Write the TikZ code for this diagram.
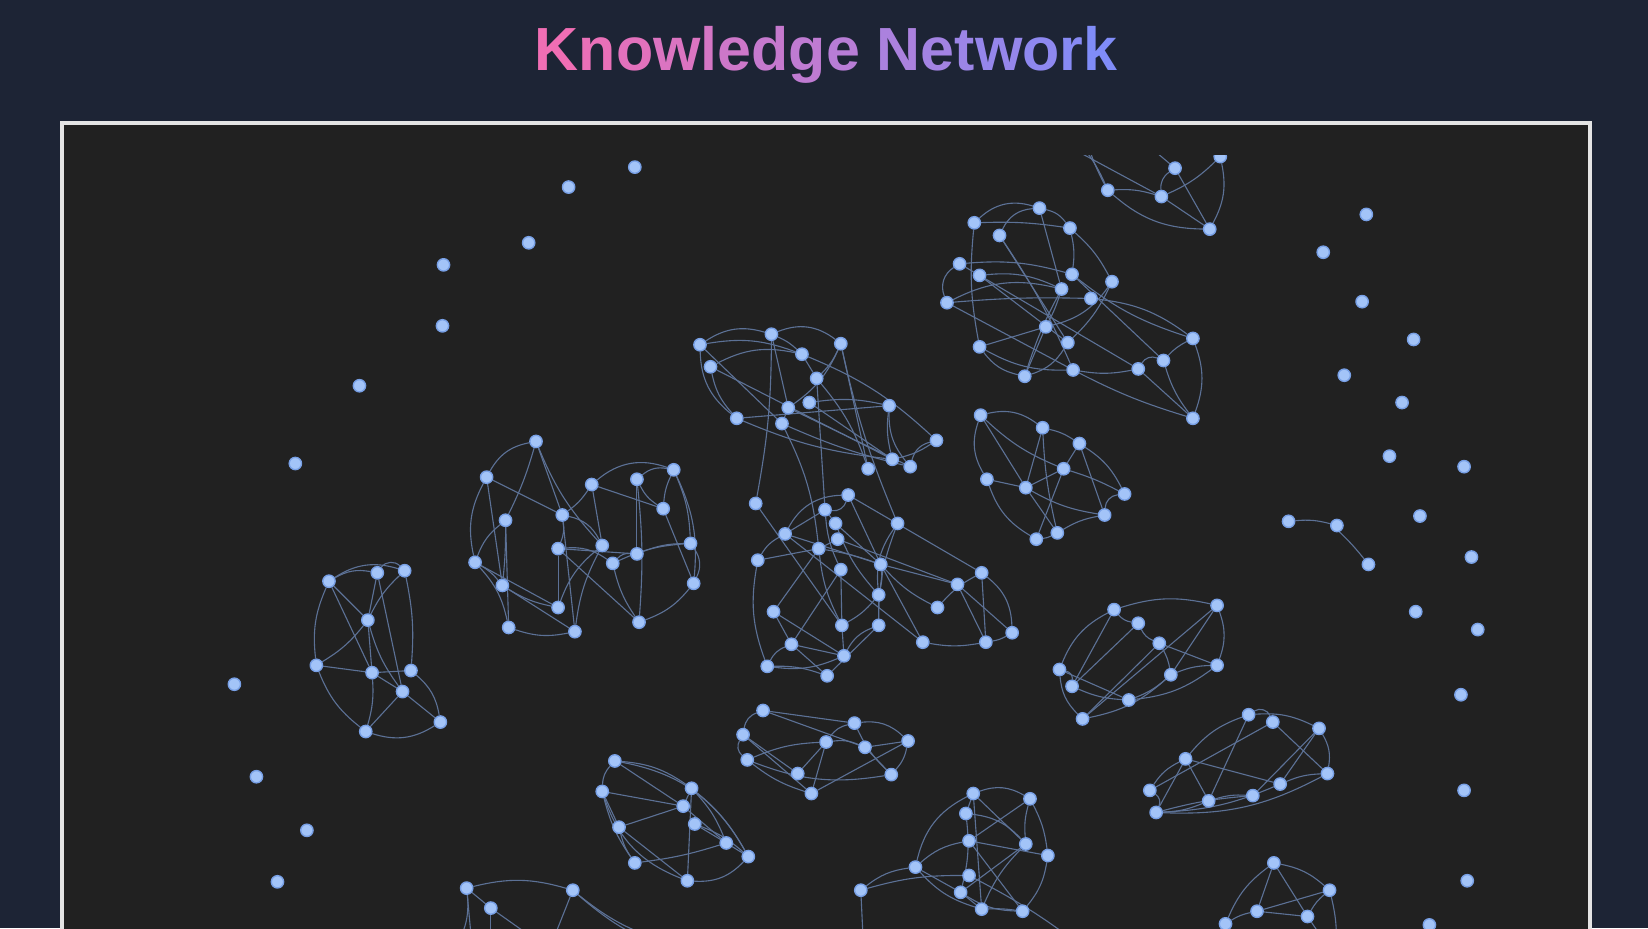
\documentclass[tikz,border=0pt]{standalone}
\usepackage{fontspec}
\newfontfamily\titlefont{Liberation Sans}
\definecolor{bgnavy}{HTML}{1D2435}
\definecolor{panelgray}{HTML}{212121}
\definecolor{panelrim}{HTML}{E4E4E4}
\definecolor{dotfill}{HTML}{A3C4F8}
\definecolor{dotrim}{HTML}{78A0E6}
\definecolor{linkcol}{HTML}{5C7196}
\definecolor{tpink}{HTML}{F06EB4}
\definecolor{tindigo}{HTML}{808CF8}
\newcommand\gradch[2]{\textcolor{tindigo!#1!tpink}{#2}}
\pgfdeclarelayer{background}
\pgfdeclarelayer{edges}
\pgfsetlayers{background,edges,main}
\tikzset{
  kdot/.style={circle, inner sep=0pt, minimum size=0.235cm, fill=dotfill, draw=dotrim, line width=0.75pt},
  klink/.style={draw=linkcol, line width=0.6pt},
}
\begin{document}
\begin{tikzpicture}[x=0.02cm, y=-0.02cm, line join=round, line cap=round]
  \useasboundingbox (0,0) rectangle (1568,883);
  \begin{pgfonlayer}{background}
    \fill[bgnavy] (0,0) rectangle (1568,883);
    \draw[panelrim, fill=panelgray, line width=2.1pt] (59,117) rectangle (1513,900);
  \end{pgfonlayer}
  % title
  \node[anchor=base, font=\titlefont\bfseries\fontsize{33}{36}\selectfont] (title) at (786,67)
    {\gradch{0}{K}\gradch{6}{n}\gradch{12}{o}\gradch{19}{w}\gradch{25}{l}\gradch{31}{e}\gradch{38}{d}\gradch{44}{g}\gradch{50}{e}\ \gradch{62}{N}\gradch{69}{e}\gradch{75}{t}\gradch{81}{w}\gradch{88}{o}\gradch{94}{r}\gradch{100}{k}};
  \begin{scope}
    \clip (61,148) rectangle (1511,883);
    % loose dots
    \foreach \n/\x/\y in {p1/604/159, p2/541/178, p3/503/231, p4/422/252, p5/421/310, p6/342/367,
        p7/281/441, p8/223/651, p9/244/739, p10/292/790, p11/264/839,
        q1/1300/204, q2/1259/240, q3/1296/287, q4/1345/323, q5/1279/357, q6/1334/383, q7/1322/434,
        q8/1393/444, q9/1351/491, q10/1400/530, q11/1347/582, q12/1406/599, q13/1390/661,
        q14/1393/752, q15/1396/838, q16/1360/880, r1/1226/496, r2/1272/500, r3/1302/537}
      \node[kdot] (\n) at (\x,\y) {};
    % clusters
    \foreach \n/\x/\y in {t1/1054/181, t2/1105/187, t3/1118/160, t4/1151/218, t5/1161/149,
        a1/989/198, a2/927/212, a3/951/224, a4/1018/217, a5/913/251, a6/932/262, a7/1020/261,
        a8/1058/268, a9/1010/275, a10/1038/284, a11/901/288, a12/995/311, a13/932/330,
        a14/1016/326, a15/975/358, a16/1021/352, a17/1083/351, a18/1107/343, a19/1135/322, a20/1135/398,
        b1/933/395, b2/992/407, b3/1027/422, b4/1012/446, b5/939/456, b6/976/464, b7/1070/470,
        b8/1051/490, b9/1006/507, b10/986/513}
      \node[kdot] (\n) at (\x,\y) {};
    \foreach \n/\x/\y in {c1/666/328, c2/734/318, c3/800/327, c4/763/337, c5/676/349, c6/777/360,
        c7/770/383, c8/750/388, c9/846/386, c10/701/398, c11/744/403, c12/891/419, c13/849/437,
        c14/866/444, c15/826/446,
        d1/510/420, d2/463/454, d3/641/447, d4/563/461, d5/606/456, d6/631/484, d7/481/495,
        d8/535/490, d9/531/522, d10/573/519, d11/606/527, d12/583/536, d13/657/517, d14/452/535,
        d15/478/557, d16/660/555, d17/531/578, d18/608/592, d19/484/597, d20/547/601}
      \node[kdot] (\n) at (\x,\y) {};
    \foreach \n/\x/\y in {e1/719/479, e2/807/471, e3/785/485, e4/795/498, e5/854/498, e6/747/508,
        e7/797/513, e8/779/522, e9/721/533, e10/838/537, e11/800/542, e12/934/545, e13/911/556,
        e14/836/566, e15/892/578, e16/736/582, e17/801/595, e18/836/595, e19/963/602, e20/878/611,
        e21/938/611, e22/753/613, e23/803/624, e24/730/634, e25/787/643,
        f1/313/553, f2/359/545, f3/385/543, f4/350/590, f5/301/633, f6/354/640, f7/391/638,
        f8/383/658, f9/419/687, f10/348/696}
      \node[kdot] (\n) at (\x,\y) {};
    \foreach \n/\x/\y in {g1/585/724, g2/573/753, g3/658/750, g4/650/767, g5/589/787, g6/661/784,
        g7/691/802, g8/712/815, g9/604/821, g10/654/838,
        h1/726/676, h2/707/699, h3/813/688, h4/786/706, h5/823/711, h6/864/705, h7/711/723,
        h8/759/736, h9/848/737, h10/772/755,
        i1/926/755, i2/980/760, i3/919/774, i4/922/800, i5/976/803, i6/997/814, i7/871/825,
        i8/922/833, i9/914/849, i10/934/865, i11/973/867, s1/819/847}
      \node[kdot] (\n) at (\x,\y) {};
    \foreach \n/\x/\y in {k1/1060/580, k2/1158/576, k3/1083/593, k4/1103/612, k5/1158/633,
        k6/1008/637, k7/1114/642, k8/1020/653, k9/1074/666, k10/1030/684,
        l1/1188/680, l2/1211/687, l3/1255/693, l4/1128/722, l5/1263/736, l6/1218/746,
        l7/1094/752, l8/1192/757, l9/1150/762, l10/1100/773,
        m1/1212/821, m2/1265/847, m3/1196/867, m4/1244/872, m5/1166/879,
        n1/444/845, n2/467/864, n3/545/847}
      \node[kdot] (\n) at (\x,\y) {};
  \end{scope}
  % ends of links that leave the panel
  \foreach \n/\x/\y in {tu1/1005/118, tu2/1030/110, tu3/990/125, tu4/1080/128, ib/1035/905,
      sb/822/910, mb1/1175/905, mb2/1270/910, nb1/430/905, nb2/450/910, nb3/467/910,
      nb5/525/905, nb6/520/910, nb7/640/905, nb8/660/900}
    \coordinate (\n) at (\x,\y);
  \begin{pgfonlayer}{edges}
    \begin{scope}
      \clip (61,148) rectangle (1511,883);
      \draw[klink] (r1) to[bend left=10] (r2) to[bend left=5] (r3);
      \foreach \u/\v/\bb in {tu1/t1/15, tu2/t1/-10, tu3/t2/0, tu4/t3/0, t1/t2/10, t1/t4/-20,
          t2/t3/30, t2/t5/-10, t2/t4/0, t3/t4/0, t5/t4/20,
          a2/a1/30, a2/a4/5, a2/a13/-8, a3/a1/30, a1/a4/20, a1/a9/0, a3/a14/0, a3/a16/5,
          a4/a7/10, a4/a8/10, a5/a6/0, a5/a7/10, a11/a5/40, a11/a9/20, a6/a9/15, a11/a10/3,
          a11/a16/0, a6/a17/0, a6/a14/0, a7/a19/-10, a7/a18/0, a9/a12/5, a9/a15/-5, a12/a8/-20,
          a13/a12/0, a13/a16/-15, a13/a15/-20, a15/a14/-20, a15/a12/0, a16/a17/-10, a16/a20/-5,
          a17/a18/40, a17/a20/0, a18/a19/10, a18/a20/-10, a19/a20/20, a10/a19/15, a8/a14/10,
          b1/b2/25, b2/b3/10, b1/b5/-25, b1/b6/0, b2/b6/0, b2/b9/-5, b3/b7/15, b3/b8/0,
          b4/b6/0, b4/b10/0, b4/b7/5, b5/b6/0, b5/b10/-20, b6/b9/0, b7/b8/-40, b8/b9/-10,
          b9/b10/10, b6/b8/-10, b3/b4/0, b1/b4/-10}
        \draw[klink] (\u) to[bend left=\bb] (\v);
      \foreach \u/\v/\bb in {c1/c2/25, c1/c10/-25, c1/c4/15, c1/c11/0, c2/c4/10, c2/c8/0, c2/c3/30,
          c2/e1/5, c3/c8/15, c3/c15/0, c3/c6/10, c3/e5/-5, c5/c10/-15, c5/c13/0, c5/c4/20,
          c4/c6/0, c4/c12/10, c6/c15/10, c6/e3/0, c7/c9/10, c8/c11/0, c8/c14/0, c10/c9/0,
          c10/c13/-8, c11/c14/-5, c9/c13/-10, c9/c14/-20, c12/c14/-30, c12/c13/10, c11/e8/10,
          c7/c13/0,
          d1/d2/-25, d1/d7/5, d1/d8/0, d1/d10/-10, d2/d14/-20, d2/d15/0, d2/d8/0, d7/d15/3,
          d7/d19/0, d7/d14/-15, d14/d15/10, d14/d17/0, d14/d19/15, d15/d20/0, d15/d17/-10,
          d8/d9/15, d8/d20/0, d8/d10/25, d8/d4/-10, d9/d11/0, d9/d12/20, d9/d17/0, d9/d18/0,
          d4/d10/0, d4/d6/0, d4/d3/30, d5/d11/0, d5/d18/5, d5/d6/-15, d5/d3/25, d3/d6/-10,
          d3/d13/10, d3/d16/15, d6/d16/0, d11/d13/10, d12/d11/25, d12/d13/10, d12/d18/-10,
          d13/d16/30, d16/d18/15, d10/d17/-15, d10/d20/-10, d19/d20/-15}
        \draw[klink] (\u) to[bend left=\bb] (\v);
      \foreach \u/\v/\bb in {e1/e17/0, e2/e6/-30, e2/e10/0, e2/e12/0, e2/e3/40, e3/e4/0,
          e3/e11/-10, e3/e6/0, e4/e10/0, e4/e14/-10, e5/e14/-20, e5/e18/-10, e6/e9/-15, e6/e10/0,
          e6/e20/0, e7/e8/0, e7/e13/0, e8/e9/0, e8/e16/0, e8/e17/-10, e8/e10/5, e9/e24/-15,
          e10/e13/0, e10/e15/-10, e10/e14/10, e10/e20/0, e11/e17/0, e11/e22/0, e12/e15/-10,
          e12/e21/0, e12/e19/25, e13/e21/0, e13/e19/0, e14/e17/10, e14/e18/0, e16/e23/0,
          e16/e22/0, e17/e23/0, e18/e23/-20, e18/e25/0, e20/e21/-10, e21/e19/-10, e22/e23/0,
          e22/e25/0, e22/e24/-20, e24/e25/10, e24/e23/-15,
          f1/f2/20, f1/f3/25, f2/f3/50, f1/f4/0, f1/f6/0, f1/f5/-15, f2/f4/0, f2/f8/0, f3/f4/-10,
          f3/f7/8, f4/f6/0, f4/f8/-10, f5/f4/-10, f5/f6/0, f5/f10/-15, f6/f7/0, f6/f8/0,
          f6/f10/10, f7/f9/20, f8/f9/0, f8/f10/0, f9/f10/25}
        \draw[klink] (\u) to[bend left=\bb] (\v);
      \foreach \u/\v/\bb in {g1/g2/-20, g1/g3/15, g1/g4/0, g1/g8/25, g2/g4/0, g2/g5/0, g2/g9/-10,
          g2/g10/-25, g3/g4/0, g3/g10/0, g3/g8/10, g4/g5/0, g4/g7/0, g5/g9/-10, g5/g10/0,
          g6/g7/0, g6/g8/10, g7/g9/5, g7/g8/0, g8/g10/25, g3/g7/10,
          h1/h2/-30, h1/h3/0, h1/h5/0, h2/h7/-40, h2/h8/0, h2/h10/0, h3/h4/-20, h3/h6/25,
          h3/h9/-10, h4/h8/0, h4/h10/0, h4/h5/15, h5/h6/0, h7/h4/10, h7/h10/-10, h6/h9/15,
          h6/h10/0, h7/h9/-15, h5/h9/0,
          i1/i2/25, i1/i3/0, i1/i7/-25, i1/i5/0, i1/i10/0, i2/i4/0, i2/i5/-10, i2/i6/10,
          i3/i5/20, i3/i9/10, i4/i6/0, i4/i7/-15, i4/i11/0, i5/i9/0, i5/i10/-10, i6/i11/15,
          i7/i9/0, i7/i10/-15, i9/i10/0, i10/i11/5, i9/i11/-15, s1/i7/15, s1/i8/8, i8/ib/5,
          s1/sb/0}
        \draw[klink] (\u) to[bend left=\bb] (\v);
      \foreach \u/\v/\bb in {k1/k2/15, k1/k3/-20, k1/k6/-20, k1/k8/0, k2/k7/0, k2/k5/20,
          k2/k10/0, k3/k4/-20, k3/k8/0, k4/k5/0, k4/k7/10, k4/k10/0, k5/k9/15, k6/k8/40,
          k6/k9/0, k6/k10/-20, k7/k9/10, k8/k9/-10, k7/k10/15, k5/k7/-10,
          l1/l2/50, l1/l3/15, l1/l9/0, l1/l4/-15, l2/l5/0, l2/l7/0, l3/l8/0, l3/l5/20,
          l4/l7/-15, l4/l9/0, l4/l6/0, l4/l10/0, l6/l5/10, l7/l10/40, l8/l9/-10, l8/l10/-5,
          l9/l10/10, l5/l10/15, l6/l10/10, l3/l6/0,
          m1/m2/15, m1/m3/0, m1/m4/0, m1/m5/-15, m2/m3/0, m2/m4/-10, m3/m4/0, m3/m5/-10,
          m4/mb2/0, m5/mb1/0, m2/mb2/10,
          n1/n3/15, n1/n2/0, n1/nb1/20, n1/nb2/0, n2/nb3/0, n2/nb5/0, n3/nb6/0, n3/nb7/-10,
          n3/nb8/-15}
        \draw[klink] (\u) to[bend left=\bb] (\v);
    \end{scope}
  \end{pgfonlayer}
\end{tikzpicture}
\end{document}
